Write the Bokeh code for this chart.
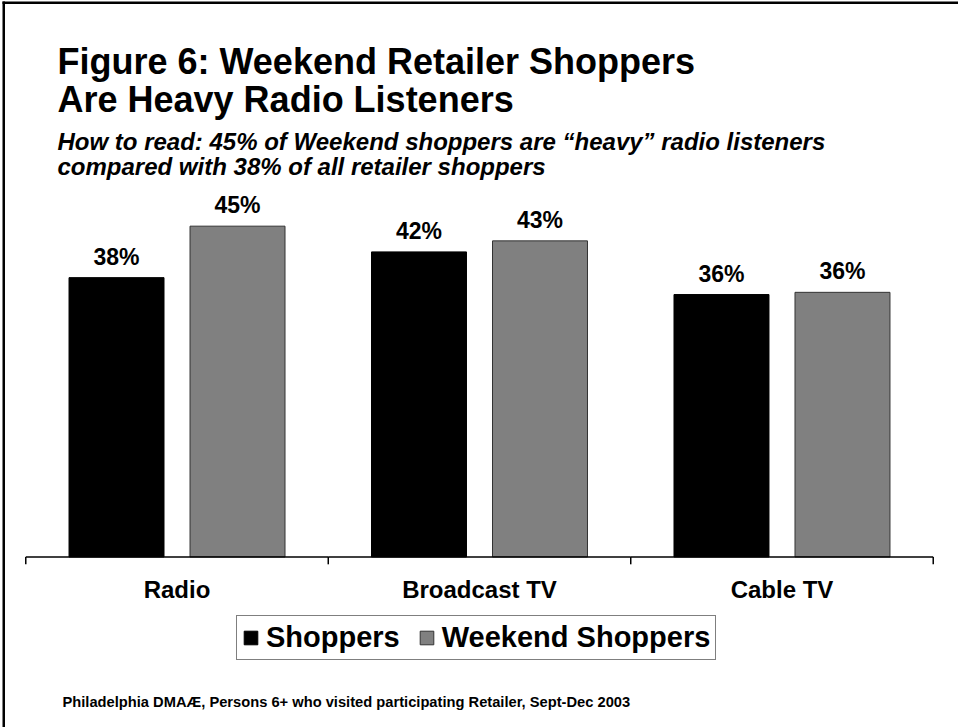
from bokeh.plotting import figure
from bokeh.models import (FactorRange, Range1d, ColumnDataSource, Label,
                          Legend, LegendItem, PolyAnnotation)
from bokeh.core.properties import value
from bokeh.transform import dodge
from bokeh.embed import file_html
from bokeh.resources import INLINE

# ---- data ----
categories = ["Radio", "Broadcast TV", "Cable TV"]
shoppers = [38.0, 41.5, 35.7]
weekend_shoppers = [45.0, 43.0, 36.0]
series_names = ["Shoppers", "Weekend Shoppers"]
title_lines = ["Figure 6: Weekend Retailer Shoppers", "Are Heavy Radio Listeners"]
subtitle_lines = ["How to read: 45% of Weekend shoppers are \u201cheavy\u201d radio listeners",
                  "compared with 38% of all retailer shoppers"]
footer = "Philadelphia DMA\u00c6, Persons 6+ who visited participating Retailer, Sept-Dec 2003"

FONT = "Liberation Sans"
W, H = 958, 727

src = ColumnDataSource(dict(
    cat=categories,
    s=shoppers,
    w=weekend_shoppers,
    s_lab=[f"{round(v)}%" for v in shoppers],
    w_lab=[f"{round(v)}%" for v in weekend_shoppers],
))

# frame covers the whole canvas; ranges chosen so the baseline sits at ~557px
p = figure(width=W, height=H, output_backend="svg", toolbar_location=None,
           x_range=FactorRange(*categories, range_padding=0.0557),
           y_range=Range1d(-23.2, 75.7),
           min_border=0, min_border_left=0, min_border_right=0,
           min_border_top=0, min_border_bottom=0)
p.outline_line_color = None
p.xgrid.visible = False
p.ygrid.visible = False
p.xaxis.visible = False
p.yaxis.visible = False
p.background_fill_color = "white"
p.border_fill_color = "white"

r1 = p.vbar(x=dodge("cat", -0.2, range=p.x_range), top="s", bottom=0, width=0.314,
            source=src, fill_color="black", line_color="black", line_width=1)
r2 = p.vbar(x=dodge("cat", 0.2, range=p.x_range), top="w", bottom=0, width=0.314,
            source=src, fill_color="#808080", line_color="#333333", line_width=1)

lab_style = dict(text_align="center", text_baseline="alphabetic",
                 text_font=value(FONT), text_font_style="bold", text_color="black")
p.text(x=dodge("cat", -0.2, range=p.x_range), y="s", text="s_lab", source=src,
       y_offset=-21, text_font_size="23px", **lab_style)
p.text(x=dodge("cat", 0.2, range=p.x_range), y="w", text="w_lab", source=src,
       y_offset=-21, text_font_size="23px", **lab_style)

# category labels below the baseline
p.text(x="cat", y=0, text="cat", source=src, y_offset=33,
       text_font_size="24px", **lab_style)

# axis baseline and category boundary ticks (from the category scale)
bounds_src = ColumnDataSource(dict(cat=categories))
p.segment(x0=dodge("cat", -0.5, range=p.x_range), y0=0,
          x1=dodge("cat", 0.5, range=p.x_range), y1=0,
          source=bounds_src, line_color="black", line_width=1.5)
p.segment(x0=dodge("cat", -0.5, range=p.x_range), y0=0,
          x1=dodge("cat", -0.5, range=p.x_range), y1=-1,
          source=bounds_src, line_color="black", line_width=1.5)
last = ColumnDataSource(dict(cat=[categories[-1]]))
p.segment(x0=dodge("cat", 0.5, range=p.x_range), y0=0,
          x1=dodge("cat", 0.5, range=p.x_range), y1=-1,
          source=last, line_color="black", line_width=1.5)

# legend
legend = Legend(items=[LegendItem(label=series_names[0], renderers=[r1]),
                       LegendItem(label=series_names[1], renderers=[r2])],
                orientation="horizontal", location=(236, 67),
                label_text_font=FONT, label_text_font_style="bold",
                label_text_font_size="29px", label_text_color="black",
                glyph_width=17, glyph_height=17, label_standoff=7, spacing=18,
                padding=5, margin=0, label_height=22,
                border_line_color="black", border_line_width=1,
                background_fill_color="white", background_fill_alpha=1)
p.add_layout(legend, "center")

# titles (screen units from the frame's bottom-left = canvas bottom-left)
def add_label(text, x, y_from_top, size, style):
    p.add_layout(Label(x=x, y=H - y_from_top, x_units="screen", y_units="screen", text=text,
                       text_font=FONT, text_font_style=style, text_font_size=size,
                       text_color="black", text_baseline="alphabetic"))

add_label(title_lines[0], 57, 61, "36px", "bold")
add_label(title_lines[1], 57, 99, "36px", "bold")
add_label(subtitle_lines[0], 57, 141, "24px", "bold italic")
add_label(subtitle_lines[1], 57, 166, "24px", "bold italic")
add_label(footer, 62, 701, "14.7px", "bold")

# page frame lines (top and left) as thin filled strips
strip = dict(xs_units="screen", ys_units="screen", fill_color="black", fill_alpha=1,
             line_alpha=0)
p.add_layout(PolyAnnotation(xs=[2, W, W, 2], ys=[H - 1, H - 1, H - 3.5, H - 3.5], **strip))
p.add_layout(PolyAnnotation(xs=[2, 4.5, 4.5, 2], ys=[0, 0, H - 1, H - 1], **strip))

open("out.html", "w").write(file_html(p, INLINE))
